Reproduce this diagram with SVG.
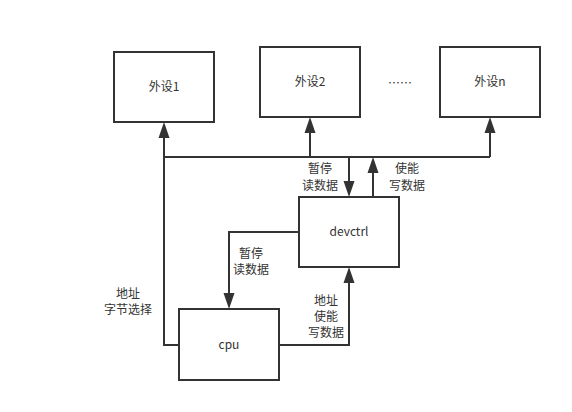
<svg xmlns="http://www.w3.org/2000/svg" width="572" height="412" viewBox="0 0 572 412">
<defs>
<style>
.box{fill:#fff;stroke:#333;stroke-width:2}
.ln{fill:none;stroke:#333;stroke-width:2}
.ah{fill:#333;stroke:none}
text{font-family:"Noto Sans CJK SC","Liberation Sans",sans-serif;font-size:12px;fill:#333;text-anchor:middle}
</style>
</defs>
<rect width="572" height="412" fill="#fff"/>
<g id="connectors">
<path class="ln" d="M164,157 H490"/>
<path class="ln" d="M179,345 H164 V136"/>
<polygon class="ah" points="164,122 158.5,138 169.5,138"/>
<path class="ln" d="M310,157 V132"/>
<polygon class="ah" points="310,117 304.5,133 315.5,133"/>
<path class="ln" d="M490,157 V132"/>
<polygon class="ah" points="490,117 484.5,133 495.5,133"/>
<path class="ln" d="M349,157 V182"/>
<polygon class="ah" points="349,197 343.5,181 354.5,181"/>
<path class="ln" d="M373,197 V172"/>
<polygon class="ah" points="373,157 367.5,173 378.5,173"/>
<path class="ln" d="M299,232 H229 V294"/>
<polygon class="ah" points="229,309 223.5,293 234.5,293"/>
<path class="ln" d="M279,345 H349 V282"/>
<polygon class="ah" points="349,267 343.5,283 354.5,283"/>
</g>
<g id="labels">
<text x="320" y="173">暂停</text>
<text x="320" y="190">读数据</text>
<text x="407" y="173">使能</text>
<text x="407" y="190">写数据</text>
<text x="251" y="258">暂停</text>
<text x="251" y="274">读数据</text>
<text x="128" y="298">地址</text>
<text x="128" y="314">字节选择</text>
<text x="326" y="305">地址</text>
<text x="326" y="321">使能</text>
<text x="326" y="337">写数据</text>
<text x="400" y="88">……</text>
</g>
<g id="p1"><rect class="box" x="114" y="52" width="100" height="70"/><text x="164" y="91">外设1</text></g>
<g id="p2"><rect class="box" x="260" y="47" width="100" height="70"/><text x="310" y="86">外设2</text></g>
<g id="pn"><rect class="box" x="440" y="47" width="100" height="70"/><text x="490" y="86">外设n</text></g>
<g id="devctrl"><rect class="box" x="299" y="197" width="100" height="70"/><text x="349" y="236">devctrl</text></g>
<g id="cpu"><rect class="box" x="179" y="309" width="100" height="71"/><text x="229" y="349">cpu</text></g>
</svg>
